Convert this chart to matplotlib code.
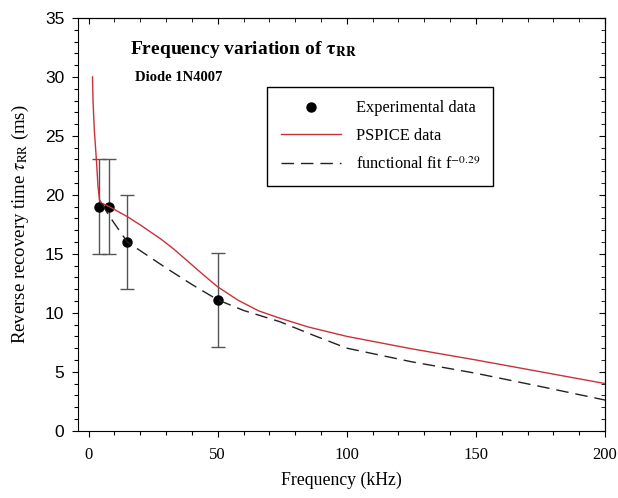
import matplotlib
matplotlib.use('Agg')
import matplotlib.pyplot as plt
from matplotlib.ticker import MultipleLocator

# experimental points (kHz, ms)
exp_f = [4, 8, 15, 50]
exp_t = [19.0, 19.0, 16.0, 11.1]
exp_err = [4, 4, 4, 4]

# PSPICE simulation curve
pspice_f = [1.5, 1.7, 2.2, 3.0, 3.6, 4.2, 5.0, 8, 15, 20, 28, 33, 38, 44, 50, 58,
            66, 74, 85, 100, 125, 150, 175, 200]
pspice_t = [30.0, 28.0, 25.5, 23.0, 20.8, 19.6, 19.3, 19.0, 18.15, 17.45, 16.25, 15.4,
            14.45, 13.3, 12.2, 11.05, 10.15, 9.55, 8.8, 8.0, 6.95, 6.0, 5.0, 4.0]

# functional fit f^-0.29
fit_f = [5, 8, 15, 30, 40, 50, 60, 74, 87, 100, 125, 150, 175, 200]
fit_t = [19.3, 18.2, 16.0, 13.8, 12.4, 11.1, 10.2, 9.25, 8.1, 7.0, 5.85, 4.87, 3.75, 2.6]

plt.rcParams['font.family'] = 'Liberation Serif'
plt.rcParams['mathtext.fontset'] = 'stix'

fig = plt.figure(figsize=(6.18, 4.98), dpi=100)
ax = fig.add_axes([0.1267, 0.1351, 0.8523, 0.8288])

ax.errorbar(exp_f, exp_t, yerr=exp_err, fmt='none', ecolor='#555555',
            elinewidth=1, capsize=5, capthick=1, zorder=2)
ax.plot(exp_f, exp_t, 'o', color='black', markersize=6.5, zorder=3,
        label='Experimental data')
ax.plot(pspice_f, pspice_t, color='#c8323a', lw=1.0, zorder=4, label='PSPICE data')
ax.plot(fit_f, fit_t, color='#222222', lw=1.0, dashes=(9, 5), zorder=4,
        label=r'functional fit f$^{-0.29}$')

ax.set_xlim(-4, 200)
ax.set_ylim(0, 35)
ax.xaxis.set_major_locator(MultipleLocator(50))
ax.xaxis.set_minor_locator(MultipleLocator(10))
ax.yaxis.set_major_locator(MultipleLocator(5))
ax.yaxis.set_minor_locator(MultipleLocator(1))
ax.tick_params(which='both', direction='out', top=False, right=False)
ax.tick_params(which='major', length=4, width=0.8)
ax.tick_params(which='minor', length=3, width=0.8)
ax.tick_params(axis='x', labelsize=12, pad=8)
ax.tick_params(axis='y', labelsize=12.5, pad=6)
for lab in ax.get_yticklabels():
    lab.set_family('Liberation Sans')

# inward ticks on top and right
top = ax.secondary_xaxis('top')
top.xaxis.set_major_locator(MultipleLocator(50))
top.xaxis.set_minor_locator(MultipleLocator(10))
top.tick_params(which='both', direction='in', labeltop=False)
top.tick_params(which='major', length=4)
top.tick_params(which='minor', length=3)
right = ax.secondary_yaxis('right')
right.yaxis.set_major_locator(MultipleLocator(5))
right.yaxis.set_minor_locator(MultipleLocator(1))
right.tick_params(which='both', direction='in', labelright=False)
right.tick_params(which='major', length=4)
right.tick_params(which='minor', length=3)

ax.set_xlabel('Frequency (kHz)', fontsize=12.8, labelpad=6)
ax.set_ylabel(r'Reverse recovery time $\tau_{\mathrm{RR}}$ (ms)', fontsize=13.5, labelpad=10)

ax.text(0.098, 0.913, r'Frequency variation of $\mathbf{\tau}_{\mathbf{RR}}$',
        transform=ax.transAxes, fontsize=14, fontweight='bold')
ax.text(0.108, 0.847, 'Diode 1N4007', transform=ax.transAxes,
        fontsize=10.5, fontweight='bold')

leg = ax.legend(loc='upper left', bbox_to_anchor=(0.359, 0.832), fontsize=11.8,
                frameon=True, fancybox=False, edgecolor='black', framealpha=1,
                handlelength=3.7, handletextpad=0.9, labelspacing=0.72,
                borderpad=0.8, borderaxespad=0)
leg.get_frame().set_linewidth(1.0)

fig.savefig('out.png', dpi=100)
